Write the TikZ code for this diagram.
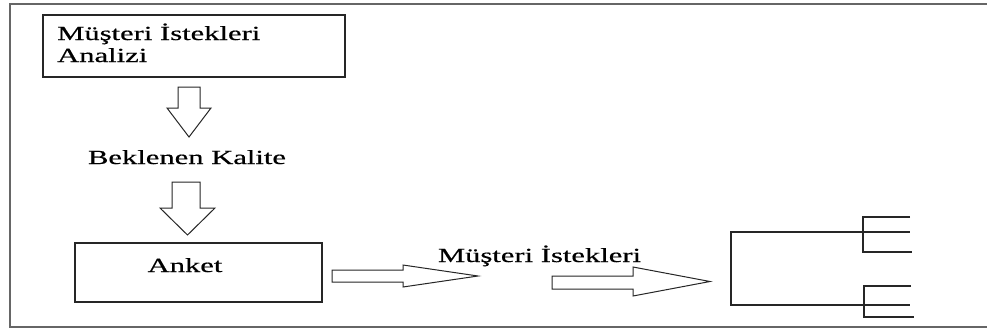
\documentclass[tikz,border=0pt]{standalone}
\usepackage{fontspec}
\setmainfont{Liberation Serif}[FakeStretch=1.53, FakeBold=0.6]
\usetikzlibrary{positioning}
\tikzset{
box/.style={draw=black!85, line width=1.4pt, rectangle, inner sep=0pt},
txt/.style={inner sep=0pt, font=\fontsize{20}{22}\selectfont},
blk/.style={draw=black!85, line width=1pt, fill=white, line join=miter},
frame/.style={draw=black!60, line width=2.2pt},
tree/.style={draw=black!85, line width=1.3pt},
}

\begin{document}
\begin{tikzpicture}[x=1pt, y=-1pt]
    \useasboundingbox (0,0) rectangle (987,330);
    %outer frame, open on the right
    \draw[frame] (987,4) -- (10,4) -- (10,327) -- (987,327);

    %boxes and labels
    \node[box, minimum width=302pt, minimum height=62pt] (analiz) at (194,46) {};
    \node[txt, anchor=base west] (analiz1) at (57,40) {Müşteri İstekleri};
    \node[txt, anchor=base west] (analiz2) at (57,62) {Analizi};
    \node[txt, anchor=base] (beklenen) at (187,164) {Beklenen Kalite};
    \node[box, minimum width=247pt, minimum height=59pt] (anket) at (198.5,272.5) {};
    \node[txt, anchor=base] (anketlbl) at (185,272) {Anket};
    \node[txt, anchor=base] (istek) at (539.5,262) {Müşteri İstekleri};

    %block arrows
    \draw[blk] (178,87) -- (200,87) -- (200,108) -- (211,108) -- (189,137) -- (167,108) -- (178,108) -- cycle;
    \draw[blk] (172,182) -- (200,182) -- (200,208) -- (215,208) -- (187.5,235) -- (160,208) -- (172,208) -- cycle;
    \draw[blk] (332,270) -- (403,270) -- (403,265) -- (478,276) -- (403,287) -- (403,282) -- (332,282) -- cycle;
    \draw[blk] (552,276) -- (633,276) -- (633,267) -- (710,281.5) -- (633,296) -- (633,289) -- (552,289) -- cycle;

    %bracket with two forks
    \draw[tree] (862,232) -- (731,232) -- (731,305) -- (864,305);
    \draw[tree] (910,217) -- (863,217) -- (863,252) -- (912,252);
    \draw[tree] (863,232) -- (910,232);
    \draw[tree] (911,286) -- (864,286) -- (864,317) -- (914,317);
    \draw[tree] (864,305) -- (910,305);

\end{tikzpicture}
\end{document}
